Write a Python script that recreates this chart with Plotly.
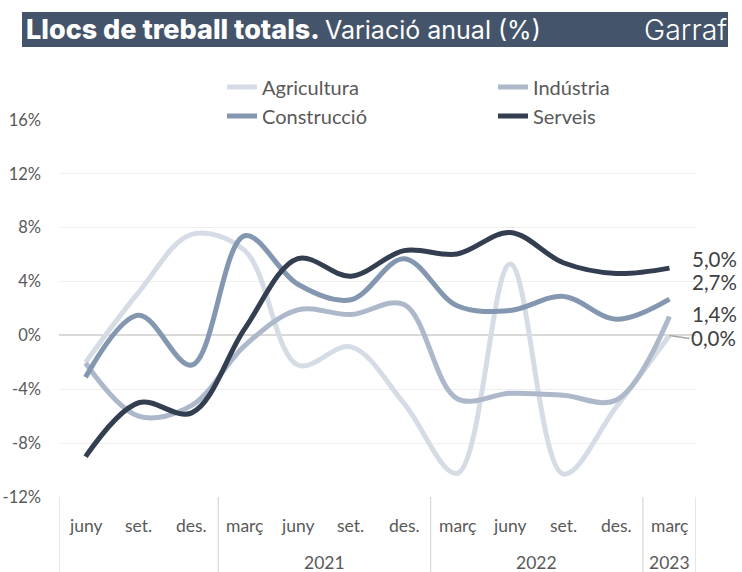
import plotly.graph_objects as go

# ---------------- data ----------------
months = ["juny", "set.", "des.", "març", "juny", "set.", "des.",
          "març", "juny", "set.", "des.", "març"]
year_labels = ["", "2021", "2022", "2023"]
year_groups = [[0, 1, 2], [3, 4, 5, 6], [7, 8, 9, 10], [11]]

agricultura = [-2.0, 3.2, 7.5, 6.3, -2.2, -0.85, -5.05, -10.25, 5.3, -10.3, -5.3, 0.0]
industria = [-2.05, -6.0, -5.2, -0.75, 1.9, 1.55, 2.3, -4.7, -4.3, -4.45, -4.8, 1.4]
construccio = [-3.1, 1.5, -2.2, 7.4, 3.8, 2.65, 5.7, 2.2, 1.85, 2.9, 1.2, 2.7]
serveis = [-9.0, -5.0, -5.75, 0.5, 5.7, 4.4, 6.3, 6.05, 7.65, 5.4, 4.6, 5.0]

y_ticks = [-12, -8, -4, 0, 4, 8, 12, 16]
y_ticktext = ["-12%", "-8%", "-4%", "0%", "4%", "8%", "12%", "16%"]

series = [
    ("Agricultura", agricultura, "#d6dce5"),
    ("Indústria", industria, "#adb9ca"),
    ("Construcció", construccio, "#8497b0"),
    ("Serveis", serveis, "#333f50"),
]

# ---------------- layout geometry ----------------
W, H = 742, 572
ML, MR, MT, MB = 59, 46, 120, 75
PW, PH = W - ML - MR, H - MT - MB
FONT = "Lato"
TFONT = "Inter"


def px(x):
    return (x - ML) / PW


def py(y):
    return (H - MB - y) / PH


# legend slots (left x of item, centre y), one legend per entry
legend_slots = [(222, 87), (493, 87), (222, 116), (493, 116)]
legend_ids = ["legend", "legend2", "legend3", "legend4"]

xs = list(range(len(months)))

fig = go.Figure()
for (name, vals, color), leg in zip(series, legend_ids):
    fig.add_trace(go.Scatter(
        x=xs, y=vals, name=name, mode="lines",
        line=dict(color=color, width=5, shape="spline", smoothing=1.0),
        legend=leg, hoverinfo="skip",
    ))

shapes = []
annotations = []

# title bar
shapes.append(dict(type="rect", xref="paper", yref="paper",
                   x0=px(22), x1=px(728), y0=py(47), y1=py(12),
                   fillcolor="#44546a", line=dict(width=0), layer="below"))
annotations.append(dict(
    xref="paper", yref="paper", x=px(24), y=py(30), xanchor="left", yanchor="middle",
    text="Llocs de treball totals.", showarrow=False,
    font=dict(family=TFONT, size=27, color="white", weight=800)))
annotations.append(dict(
    xref="paper", yref="paper", x=px(323), y=py(30), xanchor="left", yanchor="middle",
    text="Variació anual (%)", showarrow=False,
    font=dict(family=TFONT, size=25, color="white", weight=400)))
annotations.append(dict(
    xref="paper", yref="paper", x=px(729), y=py(30), xanchor="right", yanchor="middle",
    text="Garraf", showarrow=False,
    font=dict(family=TFONT, size=28.5, color="white", weight=300)))

# category axis labels
for i, m in enumerate(months):
    annotations.append(dict(xref="x", yref="paper", x=i, y=py(525), text=m,
                            showarrow=False, xanchor="center", yanchor="middle",
                            font=dict(family=FONT, size=17.5, color="#595959")))
for lab, grp in zip(year_labels, year_groups):
    if lab:
        annotations.append(dict(xref="x", yref="paper", x=(grp[0] + grp[-1]) / 2,
                                y=py(562), text=lab, showarrow=False,
                                xanchor="center", yanchor="middle",
                                font=dict(family=FONT, size=17.5, color="#595959")))
# group separators
seps = [-0.5] + [grp[-1] + 0.5 for grp in year_groups]
for s in seps:
    shapes.append(dict(type="line", xref="x", yref="paper", x0=s, x1=s,
                       y0=0, y1=py(572), line=dict(color="#d9d9d9", width=1.3)))

# end labels
last = len(months) - 1
end_shifts = {"Serveis": 9, "Construcció": 17, "Indústria": 3}
for name, vals, color in series:
    v = vals[last]
    txt = f"{v:.1f}%".replace(".", ",")
    if name == "Agricultura":
        annotations.append(dict(xref="x", yref="y", x=last, y=v, text=txt,
                                showarrow=True, arrowhead=0, arrowwidth=1.5,
                                arrowcolor="#a6a6a6", ax=20, ay=3,
                                xanchor="left", yanchor="middle",
                                font=dict(family=FONT, size=20.5, color="#404040")))
    else:
        annotations.append(dict(xref="x", yref="y", x=last, y=v, text=txt,
                                showarrow=False, xanchor="left", yanchor="middle",
                                xshift=21, yshift=end_shifts[name],
                                font=dict(family=FONT, size=20.5, color="#404040")))

legend_common = dict(orientation="h",
                     font=dict(family=FONT, size=20, color="#595959"),
                     bgcolor="rgba(0,0,0,0)", itemwidth=30,
                     xanchor="left", yanchor="middle")
legends = {}
for leg, (lx, ly) in zip(legend_ids, legend_slots):
    legends[leg] = dict(x=px(lx), y=py(ly), **legend_common)

fig.update_layout(
    width=W, height=H,
    margin=dict(l=ML, r=MR, t=MT, b=MB, pad=0, autoexpand=False),
    paper_bgcolor="white", plot_bgcolor="white",
    showlegend=True,
    xaxis=dict(range=[-0.5, len(months) - 0.5], showgrid=False, zeroline=False,
               showticklabels=False, showline=False, ticks="", fixedrange=True,
               automargin=False),
    yaxis=dict(range=[-12, 16], tickvals=y_ticks, ticktext=y_ticktext,
               showgrid=True, gridcolor="#efefef", gridwidth=1.3,
               zeroline=True, zerolinecolor="#d9d9d9", zerolinewidth=1.8,
               showline=False, ticks="", ticklabelstandoff=17, automargin=False,
               tickfont=dict(family=FONT, size=16.5, color="#595959"), fixedrange=True),
    shapes=shapes, annotations=annotations,
    **legends,
)

fig.write_html("out.html", config={"displayModeBar": False},
               post_script="document.body.style.margin='0';")
